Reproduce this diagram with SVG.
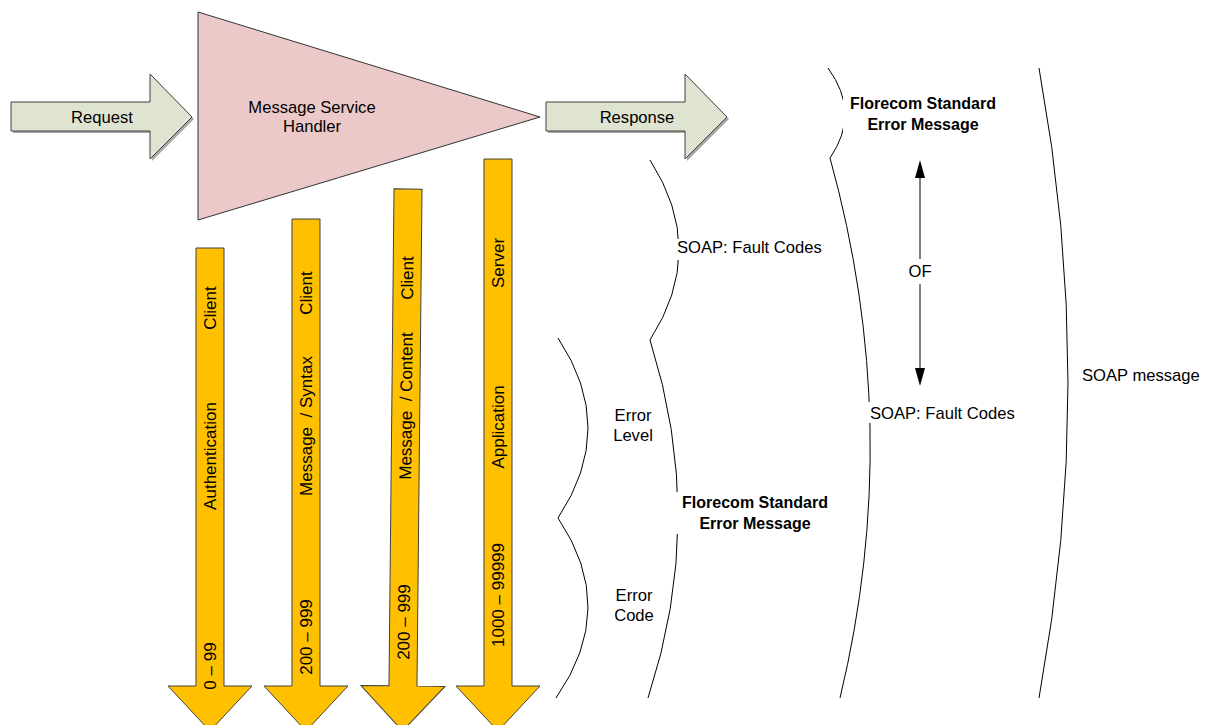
<svg xmlns="http://www.w3.org/2000/svg" width="1207" height="725" viewBox="0 0 1207 725">
<style>
text{font-family:"Liberation Sans",Arial,sans-serif;font-size:16.6px;fill:#000}
.b{font-weight:bold;font-size:16px}
.r{font-size:17px}
.m{text-anchor:middle}
.g{fill:#dfe4d0;stroke:#404040;stroke-width:1}
.sh{fill:#a6a6a6}
.o{fill:#ffc000;stroke:#404040;stroke-width:1}
.c{fill:none;stroke:#000;stroke-width:1}
.w{fill:#fff}
.h{fill:#000}
</style>

<g id="request">
<polygon class="sh" points="13,104 152,104 152,76 194,119 152,161 152,133 13,133"/>
<polygon class="g" points="11,102 150,102 150,74 192,117 150,159 150,131 11,131"/>
<text class="m" x="102" y="123">Request</text>
</g>

<g id="handler">
<polygon points="198,12 540,117 198,220" fill="#ecc9c9" stroke="#333" stroke-width="1"/>
<text class="m" x="312" y="113">Message Service</text>
<text class="m" x="312" y="132">Handler</text>
</g>

<g id="response">
<polygon class="sh" points="548,104 687,104 687,76 729,119 687,161 687,133 548,133"/>
<polygon class="g" points="546,102 685,102 685,74 727,117 685,159 685,131 546,131"/>
<text class="m" x="637" y="123">Response</text>
</g>

<g id="auth">
<polygon class="o" points="196,248 224,248 224,686 252,686 210,731 168,686 196,686"/>
<text class="r m" transform="translate(216,308) rotate(-90)">Client</text>
<text class="r m" transform="translate(216,456) rotate(-90)">Authentication</text>
<text class="r m" transform="translate(216,666) rotate(-90)">0 – 99</text>
</g>

<g id="syntax">
<polygon class="o" points="292,219 320,219 320,686 348,686 306,731 264,686 292,686"/>
<text class="r m" transform="translate(312,293) rotate(-90)">Client</text>
<text class="r m" transform="translate(312,426) rotate(-90)" xml:space="preserve">Message  / Syntax</text>
<text class="r m" transform="translate(312,637) rotate(-90)">200 – 999</text>
</g>

<g id="content" transform="rotate(0.58,405.5,437)">
<polygon class="o" points="391.5,189 419.5,189 419.5,686 447.5,686 405.5,731 363.5,686 391.5,686"/>
<text class="r m" transform="translate(411.5,278) rotate(-90)">Client</text>
<text class="r m" transform="translate(411.5,406) rotate(-90)" xml:space="preserve">Message  / Content</text>
<text class="r m" transform="translate(411.5,622) rotate(-90)">200 – 999</text>
</g>

<g id="application">
<polygon class="o" points="484,159 512,159 512,686 540,686 498,731 456,686 484,686"/>
<text class="r m" transform="translate(504,263) rotate(-90)">Server</text>
<text class="r m" transform="translate(504,427) rotate(-90)">Application</text>
<text class="r m" transform="translate(504,595) rotate(-90)">1000 – 99999</text>
</g>

<g id="connectors">
<path class="c" d="M558,338 Q618,428 558,518 Q619,608 556,698"/>
<path class="c" d="M650,160 Q708,250 650,340 Q707,519 648,698"/>
<path class="c" d="M828,68 Q861,113 830,158 Q905,428 840,698"/>
<path class="c" d="M1039,68 Q1097,383 1039,698"/>
<line class="c" x1="920" y1="176" x2="920" y2="369"/>
<polygon class="h" points="920,160 925,178 915,178"/>
<polygon class="h" points="920,386 925,368 915,368"/>
</g>

<g id="soap-fault-1">
<rect class="w" x="676" y="239" width="156" height="21"/>
<text x="677" y="253">SOAP: Fault Codes</text>
</g>
<g id="error-level">
<text class="m" x="633" y="421">Error</text>
<text class="m" x="633" y="441">Level</text>
</g>
<g id="error-code">
<text class="m" x="634" y="601">Error</text>
<text class="m" x="634" y="621">Code</text>
</g>
<g id="florecom-1">
<rect class="w" x="676" y="492" width="158" height="42"/>
<text class="b m" x="755" y="508">Florecom Standard</text>
<text class="b m" x="755" y="529">Error Message</text>
</g>
<g id="florecom-2">
<rect class="w" x="843" y="94" width="158" height="42"/>
<text class="b m" x="923" y="109">Florecom Standard</text>
<text class="b m" x="923" y="130">Error Message</text>
</g>
<g id="of">
<rect class="w" x="908" y="259" width="24" height="25"/>
<text class="m" x="920" y="277">OF</text>
</g>
<g id="soap-fault-2">
<rect class="w" x="868" y="402" width="156" height="21"/>
<text x="870" y="419">SOAP: Fault Codes</text>
</g>
<g id="soap-message">
<text x="1082" y="381">SOAP message</text>
</g>
</svg>
